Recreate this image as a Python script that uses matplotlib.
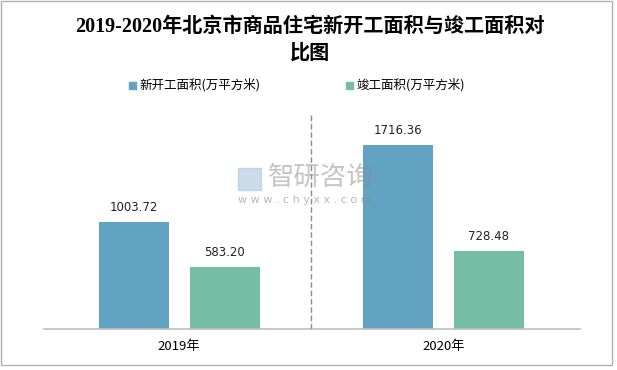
import matplotlib.pyplot as plt
from matplotlib.patches import Rectangle
import numpy as np

plt.rcParams['font.family'] = ['Noto Sans CJK SC', 'DejaVu Sans']

years = ['2019年', '2020年']
new_start = [1003.72, 1716.36]
completed = [583.20, 728.48]
series_names = ['新开工面积(万平方米)', '竣工面积(万平方米)']
title = '2019-2020年北京市商品住宅新开工面积与竣工面积对\n比图'

blue = '#62a3c3'
green = '#76bda5'

W, H = 617, 370
fig = plt.figure(figsize=(W / 100, H / 100), dpi=100)
fig.patch.set_facecolor('white')

# plot area in pixel coords
left, right, base, top = 47, 575.5, 329, 115
ax = fig.add_axes([left / W, 1 - base / H, (right - left) / W, (base - top) / H])
ax.set_xlim(-0.5, 1.5)
ax.set_ylim(0, 2000)
ax.axis('off')

x = np.arange(len(years))
w = 0.265
off = 0.172
ax.bar(x - off, new_start, w, color=blue)
ax.bar(x + off, completed, w, color=green)

for xi, v in zip(x - off, new_start):
    ax.text(xi, v + 75, f'{v:.2f}', ha='center', va='bottom', fontsize=8.5,
            family='DejaVu Sans', color='#222222')
for xi, v in zip(x + off, completed):
    ax.text(xi, v + 75, f'{v:.2f}', ha='center', va='bottom', fontsize=8.5,
            family='DejaVu Sans', color='#222222')

ax.axhline(0, xmin=-0.006, xmax=1.008, color='#bfbfbf', lw=1.2, clip_on=False)
ax.axvline(0.5, color='#8c8c8c', lw=1, ls=(0, (4, 2)), ymin=0, ymax=1)

for xi, lab in zip(x, years):
    ax.text(xi, -105, lab, ha='center', va='top', fontsize=9.5)

# title
fig.text(310 / W, 1 - 27 / H, title.split('\n')[0], ha='center', va='center',
         fontsize=14.5, fontweight='bold',
         family=['Liberation Serif', 'Noto Sans CJK SC'])
fig.text(310 / W, 1 - 53.5 / H, title.split('\n')[1], ha='center', va='center',
         fontsize=14.5, fontweight='bold',
         family=['Liberation Serif', 'Noto Sans CJK SC'])

# legend
for px, name, c in [(129, series_names[0], blue), (346, series_names[1], green)]:
    fig.patches.append(Rectangle((px / W, 1 - 89 / H), 7 / W, 7 / H,
                                 transform=fig.transFigure, color=c))
    fig.text((px + 10) / W, 1 - 85 / H, name, ha='left', va='center', fontsize=9)

# watermark
fig.text(268 / W, 1 - 177 / H, '智研咨询', ha='left', va='center', fontsize=19,
         color='#8a8a8a', alpha=0.5)
fig.text(238 / W, 1 - 200 / H, 'w w w . c h y x x . c o m', ha='left', va='center',
         fontsize=8, color='#8a8a8a', alpha=0.6, family='DejaVu Sans')
fig.patches.append(Rectangle((238 / W, 1 - 190 / H), 23 / W, 22 / H,
                             transform=fig.transFigure, color='#a9c3dc', alpha=0.6))

# outer border
fig.patches.append(Rectangle((0.5 / W, 1 - 364.5 / H), 611.5 / W, 364 / H,
                             transform=fig.transFigure, fill=False,
                             edgecolor='#b0b0b0', lw=1))

fig.savefig('out.png', dpi=100)
